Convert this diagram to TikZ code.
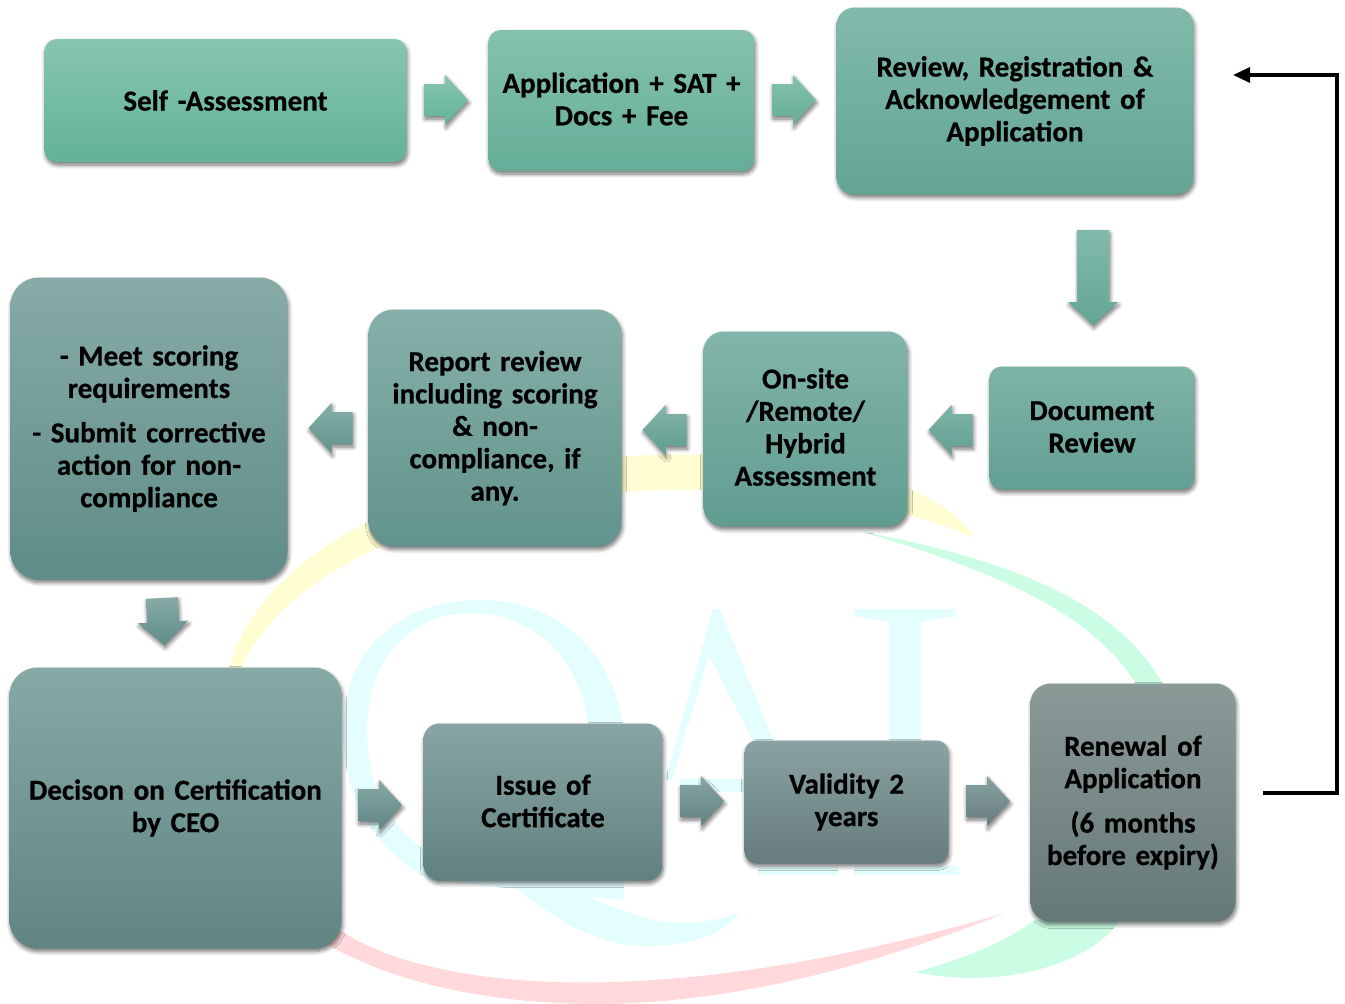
\documentclass[tikz,border=0pt]{standalone}
\usepackage{fontspec}
\setmainfont{Carlito}[WordSpace=0.7,BoldFeatures={FakeBold=0.6}]
\usetikzlibrary{arrows.meta,shadows.blur}
\definecolor{wmcyan}{HTML}{E4FDFD}
\definecolor{wmyellow}{HTML}{FFFDD2}
\definecolor{wmgreen}{HTML}{CBFCE4}
\definecolor{wmred}{HTML}{FFD9DC}
\definecolor{selfT}{HTML}{87C6AF}\definecolor{selfB}{HTML}{62B299}
\definecolor{appT}{HTML}{84C2AE}\definecolor{appB}{HTML}{65AD98}
\definecolor{revT}{HTML}{81BAAB}\definecolor{revB}{HTML}{63A595}
\definecolor{docT}{HTML}{7DB5A7}\definecolor{docB}{HTML}{649F93}
\definecolor{onT}{HTML}{82B5A9}\definecolor{onB}{HTML}{619C90}
\definecolor{repT}{HTML}{85B0A9}\definecolor{repB}{HTML}{62938C}
\definecolor{meetT}{HTML}{87ABA7}\definecolor{meetB}{HTML}{5F8C88}
\definecolor{decT}{HTML}{86A9A6}\definecolor{decB}{HTML}{608582}
\definecolor{issT}{HTML}{88A5A3}\definecolor{issB}{HTML}{618181}
\definecolor{valT}{HTML}{8AA2A1}\definecolor{valB}{HTML}{667C7E}
\definecolor{renT}{HTML}{8A9A97}\definecolor{renB}{HTML}{677879}
\tikzset{
  softshadow/.style={blur shadow={shadow xshift=1pt,shadow yshift=-3pt,shadow blur steps=6,shadow blur radius=4pt,shadow opacity=55}},
  flowbox/.style n args={4}{
    rounded corners=#4, softshadow, top color=#1T, bottom color=#1B,
    minimum width=#2-1pt, minimum height=#3-1pt, inner sep=0pt, align=center, text=black,
    text width=#2-4pt, font=\fontsize{29}{32.4}\selectfont\bfseries},
  pics/blockarrow/.style n args={2}{code={
    \path[top color=#2T,bottom color=#2B,softshadow]
      (-#1/2,-16) -- (#1/2-23,-16) -- (#1/2-23,-25) -- (#1/2,0) -- (#1/2-23,25)
      -- (#1/2-23,16) -- (-#1/2,16) -- cycle;}},
}
\begin{document}
\begin{tikzpicture}[x=1pt,y=-1pt]
\useasboundingbox (0,0) rectangle (1345,1004);
% watermark
\fill[wmyellow] (975,538) .. controls (930,470) and (780,450) .. (650,455)
  .. controls (450,465) and (265,540) .. (229,668) -- (241,668)
  .. controls (290,560) and (470,490) .. (680,490)
  .. controls (800,488) and (900,505) .. (975,538) -- cycle;
\fill[wmgreen] (860,531) .. controls (980,555) and (1110,590) .. (1163,684) -- (1136,684)
  .. controls (1090,610) and (990,570) .. (860,531) -- cycle;
\fill[wmgreen] (915,972) .. controls (1000,990) and (1090,965) .. (1120,920) -- (1035,920)
  .. controls (1000,945) and (960,960) .. (915,972) -- cycle;
\fill[wmred] (1005,913) .. controls (850,975) and (700,1010) .. (560,1003)
  .. controls (450,998) and (360,970) .. (305,930) -- (340,930)
  .. controls (420,985) and (640,1020) .. (1005,913) -- cycle;
\fill[wmcyan,even odd rule] (343,730) .. controls (343,650) and (400,600) .. (480,600)
  .. controls (570,600) and (624,670) .. (624,745) -- (624,900) -- (430,880)
  .. controls (375,850) and (343,800) .. (343,730) -- cycle
  (367,730) .. controls (367,800) and (400,850) .. (470,870) -- (589,860) -- (589,740)
  .. controls (589,670) and (540,613) .. (470,613)
  .. controls (410,613) and (367,660) .. (367,730) -- cycle;
\fill[wmcyan] (500,875) .. controls (560,925) and (600,946) .. (646,946)
  .. controls (690,946) and (725,935) .. (739,912)
  .. controls (715,922) and (690,925) .. (659,921)
  .. controls (620,912) and (580,895) .. (540,870) -- cycle;
\fill[wmcyan] (713,609) -- (720,609) -- (775,745) -- (755,745) -- (709,655) -- (672,780) -- (665,780) -- cycle;
\fill[wmcyan] (680,779) rectangle (744,792);
\fill[wmcyan] (854,609) -- (956,609) -- (956,616) -- (921,622) -- (921,745) -- (889,745) -- (889,622) -- (854,616) -- cycle;
\fill[wmcyan] (758,866) rectangle (838,875);
\fill[wmcyan] (854,866) rectangle (959,875);
% boxes
\node[flowbox={self}{363pt}{124pt}{12pt}] (self) at (225.5,100.5) {Self -Assessment};
\node[flowbox={app}{267pt}{142pt}{12pt}] (app) at (621.5,100.5) {Application + SAT +\\Docs + Fee\par\vspace*{3pt}};
\node[flowbox={rev}{358pt}{188pt}{18pt}] (rev) at (1015,101) {Review, Registration \&\\Acknowledgement of\\Application};
\node[flowbox={doc}{206pt}{124pt}{12pt}] (doc) at (1092,428) {Document\\Review\par\vspace*{2pt}};
\node[flowbox={on}{205pt}{196pt}{20pt}] (onsite) at (805.5,429) {On-site\\/Remote/\\Hybrid\\Assessment\par\vspace*{4pt}};
\node[flowbox={rep}{254pt}{238pt}{25pt}] (report) at (495,428) {Report review\\including scoring\\\& non-\\compliance, if\\any.};
\node[flowbox={meet}{278pt}{303pt}{28pt}] (meet) at (149,428.5) {- Meet scoring\\requirements\\[12pt]- Submit corrective\\action for non-\\compliance};
\node[flowbox={dec}{333pt}{282pt}{28pt}] (decision) at (175.5,808) {Decison on Certification\\by CEO};
\node[flowbox={iss}{240pt}{158pt}{16pt}] (issue) at (543,802) {Issue of\\Certificate\par\vspace*{2pt}};
\node[flowbox={val}{205pt}{124pt}{12pt}] (validity) at (846.5,802) {Validity 2\\years};
\node[flowbox={ren}{206pt}{239pt}{20pt}] (renewal) at (1133,802.5) {Renewal of\\Application\\[12pt](6 months\\before expiry)};
% block arrows
\pic (a1) at (446,100) {blockarrow={44}{self}};
\pic (a2) at (794,100) {blockarrow={44}{app}};
\pic[rotate=-90] (a3) at (1093,277.5) {blockarrow={95}{rev}};
\pic[rotate=180] (a4) at (950.5,430) {blockarrow={44}{doc}};
\pic[rotate=180] (a5) at (664.5,430) {blockarrow={44}{on}};
\pic[rotate=180] (a6) at (330.5,428) {blockarrow={44}{rep}};
\pic[rotate=-87] (a7) at (163,621.5) {blockarrow={47}{meet}};
\pic (a8) at (380,805) {blockarrow={44}{dec}};
\pic (a9) at (702,801) {blockarrow={44}{iss}};
\pic (a10) at (988,801) {blockarrow={44}{val}};
% return connector
\coordinate (retstart) at (1263,793);
\coordinate (retcorner) at (1337,75);
\coordinate (retend) at (1233,75);
\draw[line width=3.2pt,-{Triangle[length=17pt,width=15pt]}] (retstart) -| (retcorner) -- (retend);
\end{tikzpicture}
\end{document}
